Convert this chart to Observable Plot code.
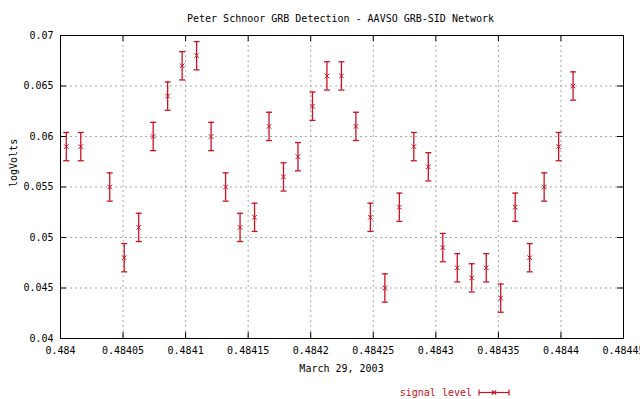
<!DOCTYPE html>
<html>
<head>
<meta charset="utf-8">
<script src="https://cdn.jsdelivr.net/npm/d3@7"></script>
<script src="https://cdn.jsdelivr.net/npm/@observablehq/plot@0.6"></script>
<style>
  html, body { margin: 0; padding: 0; background: #fff; }
  #chart svg { display: block; }
</style>
</head>
<body>
<div id="chart"></div>
<script>
// ---- data ----
const titleText = "Peter Schnoor GRB Detection - AAVSO GRB-SID Network";
const xLabelText = "March 29, 2003";
const yLabelText = "logVolts";
const seriesName = "signal level";

// time of day in seconds (UT), converted to fraction of day for the x axis
const seconds = [41818, 41819, 41821, 41822, 41823, 41824, 41825, 41826, 41827, 41828,
                 41829, 41830, 41831, 41832, 41833, 41834, 41835, 41836, 41837, 41838,
                 41839, 41840, 41841, 41842, 41843, 41844, 41845, 41846, 41847, 41848,
                 41849, 41850, 41851, 41852, 41853];
const logVolts = [0.059, 0.059, 0.055, 0.048, 0.051, 0.060, 0.064, 0.067, 0.068, 0.060,
                  0.055, 0.051, 0.052, 0.061, 0.056, 0.058, 0.063, 0.066, 0.066, 0.061,
                  0.052, 0.045, 0.053, 0.059, 0.057, 0.049, 0.047, 0.046, 0.047, 0.044,
                  0.053, 0.048, 0.055, 0.059, 0.065];
const errorHalfWidth = 0.0014;

const xTickLabels = ["0.484", "0.48405", "0.4841", "0.48415", "0.4842", "0.48425",
                     "0.4843", "0.48435", "0.4844", "0.48445"];
const yTickLabels = ["0.04", "0.045", "0.05", "0.055", "0.06", "0.065", "0.07"];

// ---- build ----
const xTicks = xTickLabels.map(Number);
const yTicks = yTickLabels.map(Number);
const data = seconds.map((s, i) => ({x: s / 86400, y: logVolts[i], lo: logVolts[i] - errorHalfWidth, hi: logVolts[i] + errorHalfWidth}));

const W = 640, H = 399;
const mL = 60, mR = 17, mT = 35, mB = 61;
const fw = W - mL - mR, fh = H - mT - mB;
const red = "#cc1122";
const font = "'DejaVu Sans Mono', 'Liberation Mono', monospace";

const capSymbol = {draw(ctx) { ctx.moveTo(-3, 0); ctx.lineTo(3, 0); }};

const plot = Plot.plot({
  width: W, height: H,
  marginLeft: mL, marginRight: mR, marginTop: mT, marginBottom: mB,
  style: {fontFamily: font, fontSize: "10px", background: "#fff", color: "#000"},
  x: {domain: [xTicks[0], xTicks[xTicks.length - 1]]},
  y: {domain: [yTicks[0], yTicks[yTicks.length - 1]]},
  marks: [
    // dashed grid (interior only)
    Plot.ruleX(xTicks.slice(1, -1), {stroke: "#a8a8a8", strokeDasharray: "2,3"}),
    Plot.ruleY(yTicks.slice(1, -1), {stroke: "#a8a8a8", strokeDasharray: "2,3"}),
    // inward tick marks on all four borders
    Plot.ruleX(xTicks, {stroke: "#000", insetTop: fh - 6}),
    Plot.ruleX(xTicks, {stroke: "#000", insetBottom: fh - 6}),
    Plot.ruleY(yTicks, {stroke: "#000", insetRight: fw - 6}),
    Plot.ruleY(yTicks, {stroke: "#000", insetLeft: fw - 6}),
    Plot.frame({stroke: "#000"}),
    // axes labels
    Plot.axisX({ticks: xTicks, tickSize: 0, tickPadding: 8, tickFormat: (d, i) => xTickLabels[i], label: null, fontSize: 10}),
    Plot.axisY({ticks: yTicks, tickSize: 0, tickPadding: 7, tickFormat: (d, i) => yTickLabels[i], label: null, fontSize: 10}),
    // error bars
    Plot.ruleX(data, {x: "x", y1: "lo", y2: "hi", stroke: red, strokeWidth: 1.3}),
    Plot.dot(data, {x: "x", y: "lo", symbol: capSymbol, stroke: red, strokeWidth: 1.3}),
    Plot.dot(data, {x: "x", y: "hi", symbol: capSymbol, stroke: red, strokeWidth: 1.3}),
    Plot.dot(data, {x: "x", y: "y", symbol: "times", r: 2.2, stroke: red, strokeWidth: 1}),
    // title and axis titles
    Plot.text([titleText], {frameAnchor: "top", dx: -1.5, dy: -17, lineAnchor: "middle", fontSize: 10, fill: "#000"}),
    Plot.text([xLabelText], {frameAnchor: "bottom", dx: -0.5, dy: 30.5, lineAnchor: "middle", fontSize: 10, fill: "#000"}),
    Plot.text([yLabelText], {frameAnchor: "left", dx: -47, rotate: -90, lineAnchor: "middle", fontSize: 10, fill: "#000"})
  ]
});

// legend (drawn inside the same svg, below the plot frame)
const svg = d3.select(plot);
const ly = 392.5;
svg.append("text")
  .attr("x", 472).attr("y", ly).attr("dy", "0.32em")
  .attr("text-anchor", "end")
  .attr("fill", red)
  .attr("font-family", font).attr("font-size", 10)
  .text(seriesName);
const lg = svg.append("g").attr("stroke", red).attr("stroke-width", 1.2).attr("fill", "none");
lg.append("line").attr("x1", 479).attr("x2", 509).attr("y1", ly).attr("y2", ly);
lg.append("line").attr("x1", 479).attr("x2", 479).attr("y1", ly - 3).attr("y2", ly + 3);
lg.append("line").attr("x1", 509).attr("x2", 509).attr("y1", ly - 3).attr("y2", ly + 3);
lg.append("path").attr("d", `M${494 - 2.2},${ly - 2.2}L${494 + 2.2},${ly + 2.2}M${494 - 2.2},${ly + 2.2}L${494 + 2.2},${ly - 2.2}`);

document.getElementById("chart").appendChild(plot);
</script>
</body>
</html>
